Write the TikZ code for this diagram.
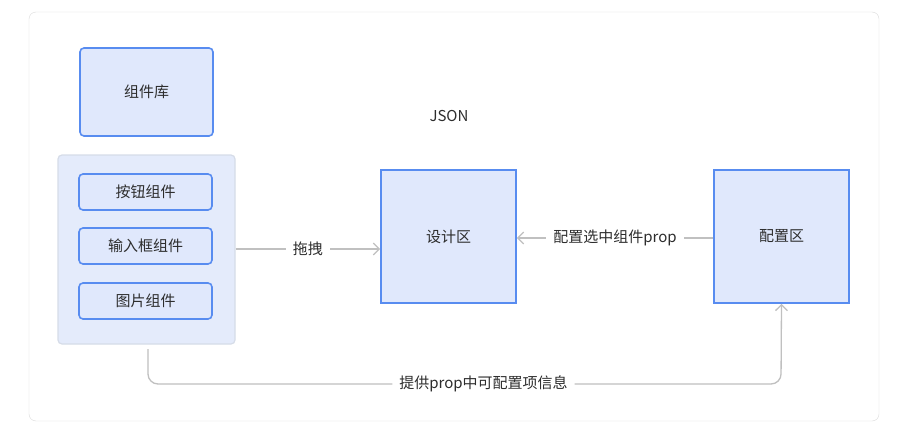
\documentclass[tikz,border=0pt]{standalone}
\usepackage{fontspec}
\setmainfont{Noto Sans CJK SC}
\usetikzlibrary{arrows.meta,positioning}
\definecolor{boxBlue}{RGB}{88,140,240}
\definecolor{boxFill}{RGB}{224,232,252}
\definecolor{groupFill}{RGB}{228,235,251}
\definecolor{groupLine}{RGB}{214,220,232}
\definecolor{lineGray}{RGB}{192,192,192}
\definecolor{textDark}{RGB}{45,45,45}

\begin{document}
\begin{tikzpicture}[x=1pt, y=-1pt, font=\fontsize{15}{17}\selectfont\color{textDark}]
  \tikzstyle{block} = [draw=boxBlue, line width=1.6pt, fill=boxFill, rounded corners=4pt, minimum width=133pt, anchor=center]
  \tikzstyle{area} = [draw=boxBlue, line width=1.6pt, fill=boxFill, minimum width=135pt, minimum height=133pt]
  \tikzstyle{flowEdge} = [draw=lineGray, line width=1.3pt, -{Straight Barb[length=6pt,width=12pt]}]
  \tikzstyle{edgeLabel} = [fill=white, inner sep=7pt];

  \useasboundingbox (0,0) rectangle (914,434);
  \draw[draw=black!14, fill=white, rounded corners=7pt] (29,12) rectangle (879,421);

	\node[block, minimum height=88pt](lib) at (146.5,92) {组件库};
	\node[draw=groupLine, line width=1.2pt, fill=groupFill, rounded corners=4pt, minimum width=177pt, minimum height=189pt](group) at (146.5,249.5) {};
	\node[block, minimum height=36pt](btn) at (145.5,192) {按钮组件};
	\node[block, minimum height=36pt](input) at (145.5,246) {输入框组件};
	\node[block, minimum height=36pt](img) at (145.5,301) {图片组件};
	\node(json) at (449,116) {JSON};
	\node[area](design) at (448.5,236.5) {设计区};
	\node[area](config) at (781.5,236.5) {配置区};

	\draw[flowEdge] (group.east |- 0,249) -- node[edgeLabel] {拖拽} (design.west |- 0,249);
	\draw[flowEdge] (config.west |- 0,238) -- node[edgeLabel] {配置选中组件prop} (design.east |- 0,238);
	\draw[flowEdge, rounded corners=10pt] (148,349) -- (148,384) -- node[edgeLabel, pos=0.53] {提供prop中可配置项信息} (781,384) -- (config.south);
\end{tikzpicture}
\end{document}
